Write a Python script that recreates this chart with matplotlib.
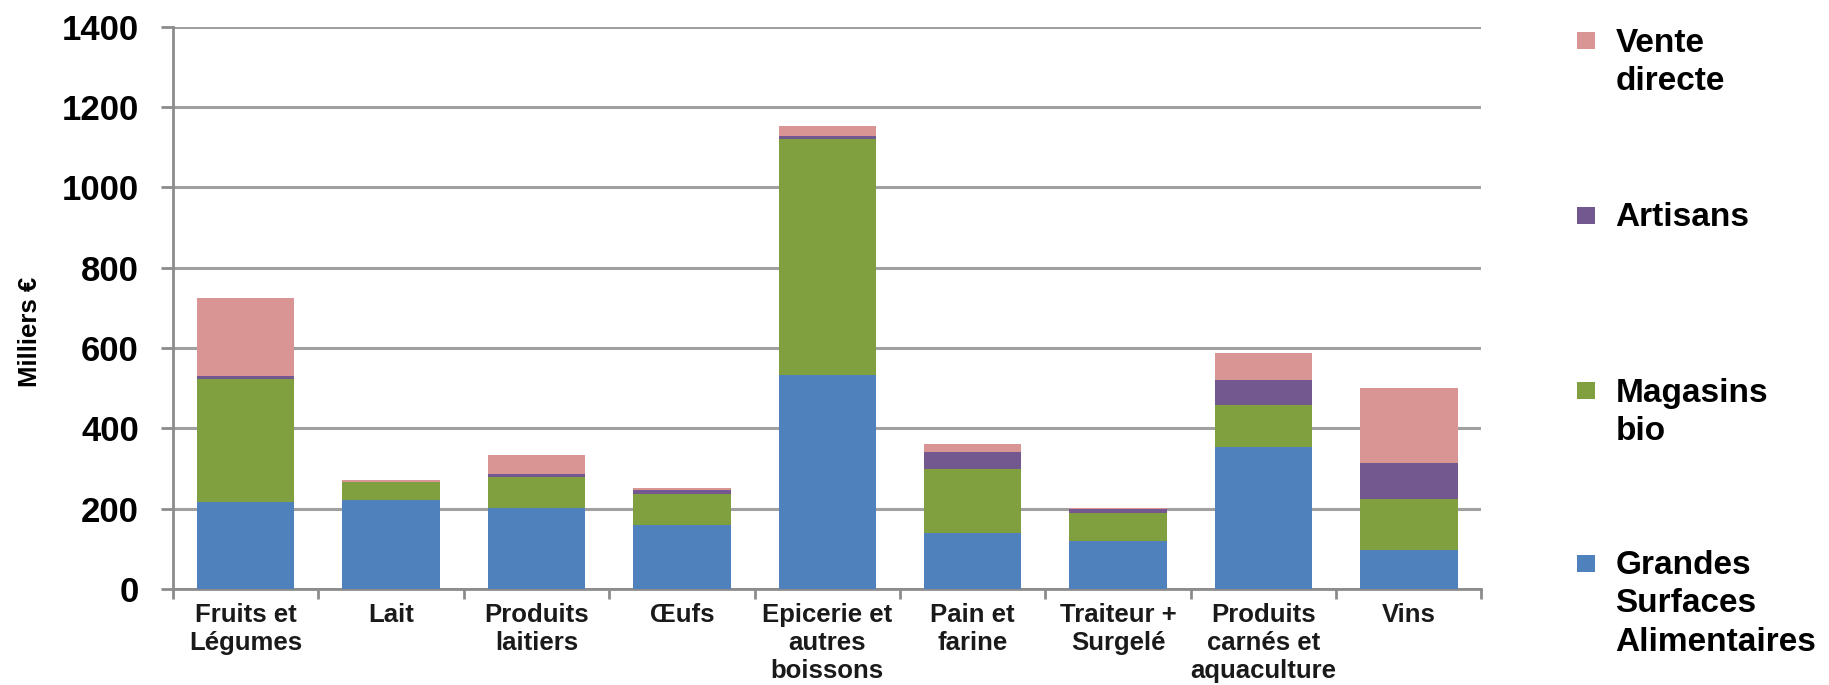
import matplotlib
matplotlib.use("Agg")
import matplotlib.pyplot as plt
import numpy as np

categories = ["Fruits et\nLégumes", "Lait", "Produits\nlaitiers", "Œufs",
              "Epicerie et\nautres\nboissons", "Pain et\nfarine", "Traiteur +\nSurgelé",
              "Produits\ncarnés et\naquaculture", "Vins"]
grandes_surfaces = [216, 222, 201, 159, 534, 140, 120, 353, 98]
magasins_bio     = [308, 44, 77, 78, 586, 160, 69, 105, 127]
artisans         = [7, 1, 8, 10, 8, 41, 10, 62, 89]
vente_directe    = [194, 5, 48, 4, 26, 21, 2, 68, 186]

series_names = ["Grandes\nSurfaces\nAlimentaires", "Magasins\nbio", "Artisans", "Vente\ndirecte"]
series_values = [grandes_surfaces, magasins_bio, artisans, vente_directe]
colors = ["#4F81BD", "#809F3F", "#73588F", "#D99594"]

FONT = "Liberation Sans"

fig = plt.figure(figsize=(18.29, 6.85), dpi=100)
ax = fig.add_axes([0.0946, 0.140, 0.7154, 0.821])

x = np.arange(len(categories))
bottom = np.zeros(len(categories))
for name, vals, c in zip(series_names, series_values, colors):
    ax.bar(x, vals, width=0.67, bottom=bottom, color=c, label=name, zorder=3)
    bottom += np.array(vals)

ax.set_xlim(-0.5, len(categories) - 0.5)
ax.set_ylim(0, 1400)
ax.set_yticks(np.arange(0, 1401, 200))
ax.yaxis.grid(True, color="#A0A0A0", linewidth=2.2, zorder=0)
ax.set_axisbelow(True)
for s in ["top", "right"]:
    ax.spines[s].set_visible(False)
ax.spines["left"].set_color("#8C8C8C")
ax.spines["left"].set_linewidth(2)
ax.spines["bottom"].set_color("#8C8C8C")
ax.spines["bottom"].set_linewidth(2)

ax.tick_params(axis="y", length=8.6, width=2, color="#8C8C8C", pad=16,
               labelsize=25)
for lab in ax.get_yticklabels():
    lab.set_fontweight("bold")
    lab.set_fontfamily(FONT)

ax.set_xticks(np.arange(-0.5, len(categories), 1.0), minor=False)
ax.set_xticklabels([""] * (len(categories) + 1))
ax.tick_params(axis="x", which="major", length=7.5, width=2, color="#8C8C8C")
ax.set_xticks(x, minor=True)
ax.set_xticklabels(categories, minor=True, fontsize=18.5, fontweight="bold",
                   family=FONT, linespacing=1.2, va="top", color="#1A1A1A")
ax.tick_params(axis="x", which="minor", length=0, pad=10)

ax.set_ylabel("Milliers €", fontsize=18.5, fontweight="bold", family=FONT)
ax.yaxis.set_label_coords(-0.100, 0.457)

# legend (top to bottom: Vente directe ... Grandes Surfaces)
ys = [0.9404, 0.685, 0.4295, 0.1775]
for h_c, lab, yy in zip(colors[::-1], series_names[::-1], ys):
    fig.patches.append(plt.Rectangle((0.8624, yy - 0.0125), 0.0096, 0.0255,
                                     transform=fig.transFigure, facecolor=h_c,
                                     edgecolor="none"))
    fig.text(0.8833, yy + 0.0194, lab, fontsize=24, fontweight="bold",
             family=FONT, va="top", ha="left", linespacing=1.3)

fig.savefig("out.png", dpi=100)
